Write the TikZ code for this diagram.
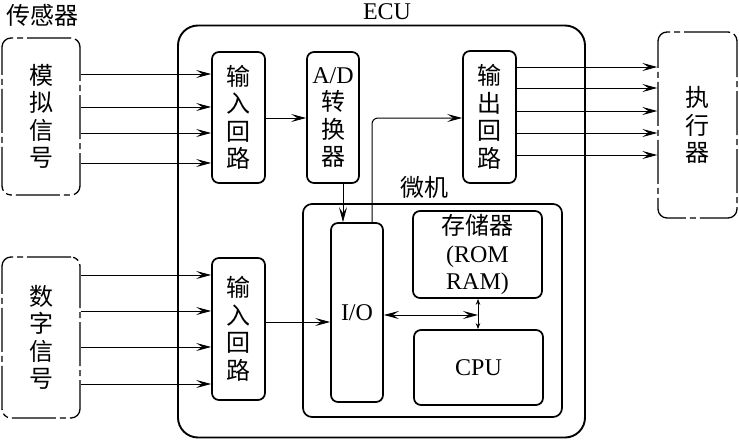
\documentclass[tikz,border=0pt]{standalone}
\usepackage{fontspec}
\setmainfont{Liberation Serif}
\newfontfamily\cjk{Noto Sans CJK SC}
\usetikzlibrary{arrows.meta}
\begin{document}
\begin{tikzpicture}[x=1pt,y=-1pt,
  blk/.style={draw, line width=1.7pt, rounded corners=7pt, inner sep=0pt, align=center,
    font=\fontsize{24}{27.5}\selectfont},
  cblk/.style={blk, font=\cjk\fontsize{24}{27.5}\selectfont},
  ext/.style={draw, line width=1.3pt, rounded corners=9pt, inner sep=0pt, align=center,
    dash pattern=on 44pt off 4pt on 6pt off 4pt,
    font=\cjk\fontsize{24}{27.5}\selectfont},
  lbl/.style={inner sep=0pt, font=\fontsize{24}{27.5}\selectfont},
  arr/.style={line width=1pt, -{Stealth[length=15pt,width=8pt,inset=6pt]}},
  barr/.style={line width=1pt, {Stealth[length=15pt,width=8pt,inset=6pt]}-{Stealth[length=15pt,width=8pt,inset=6pt]}},
  sarr/.style={line width=1pt, {Stealth[length=6pt,width=4.5pt]}-{Stealth[length=6pt,width=4.5pt]}}
]
\useasboundingbox (0,0) rectangle (739,442);

% labels
\node[lbl, font=\cjk\fontsize{24}{27.5}\selectfont] (lsens) at (42,15) {传感器};
\node[lbl] (lecu) at (387,12) {ECU};
\node[lbl, font=\cjk\fontsize{24}{27.5}\selectfont] (lmic) at (424,187) {微机};

% ECU and micro
\node[draw, line width=1.9pt, rounded corners=20pt, minimum width=407pt, minimum height=412pt] (ecu) at (381.5,231.5) {};
\node[draw, line width=1.7pt, rounded corners=9pt, minimum width=259pt, minimum height=213pt] (mic) at (432.5,310.5) {};

% sensors and actuator
\node[ext, minimum width=78pt, minimum height=157pt] (s1) at (41,116.5) {模\\拟\\信\\号};
\node[ext, minimum width=78pt, minimum height=161pt] (s2) at (41,337.5) {数\\字\\信\\号};
\node[ext, minimum width=79pt, minimum height=186pt] (act) at (697.5,125) {执\\行\\器};

% blocks
\node[cblk, minimum width=53pt, minimum height=131pt] (in1) at (238.5,117.5) {输\\入\\回\\路};
\node[cblk, minimum width=53pt, minimum height=142pt] (in2) at (238.5,329) {输\\入\\回\\路};
\node[blk, minimum width=52pt, minimum height=131pt] (ad) at (333,117.5) {A/D\\{\cjk 转}\\{\cjk 换}\\{\cjk 器}};
\node[cblk, minimum width=53pt, minimum height=132pt] (out) at (489.5,117) {输\\出\\回\\路};
\node[blk, minimum width=52pt, minimum height=179pt] (io) at (357,312.5) {I/O};
\node[blk, minimum width=129pt, minimum height=87pt] (mem) at (477.5,254.5) {{\cjk 存储器}\\(ROM\\RAM)};
\node[blk, minimum width=129pt, minimum height=75pt] (cpu) at (478.5,367.5) {CPU};

% sensor arrows
\foreach \yy in {74,107,133,163}
  \draw[arr] (s1.east |- 0,\yy) -- (in1.west |- 0,\yy);
\foreach \yy in {275,311,347,384}
  \draw[arr] (s2.east |- 0,\yy) -- (in2.west |- 0,\yy);
% output arrows
\foreach \yy in {67,88,111,133,155}
  \draw[arr] (out.east |- 0,\yy) -- (act.west |- 0,\yy);

% internal
\draw[arr] (in1.east |- 0,118) -- (ad.west |- 0,118);
\draw[arr] (ad.south -| 343,0) -- (io.north -| 343,0);
\draw[arr, rounded corners=6pt] (io.north -| 372,0) |- (out.west |- 0,118);
\draw[arr] (in2.east |- 0,322) -- (io.west |- 0,322);
\coordinate (bus) at (478,315);
\draw[barr] (io.east |- bus) -- (bus);
\draw[sarr] (mem.south -| bus) -- (cpu.north -| bus);
\end{tikzpicture}
\end{document}
